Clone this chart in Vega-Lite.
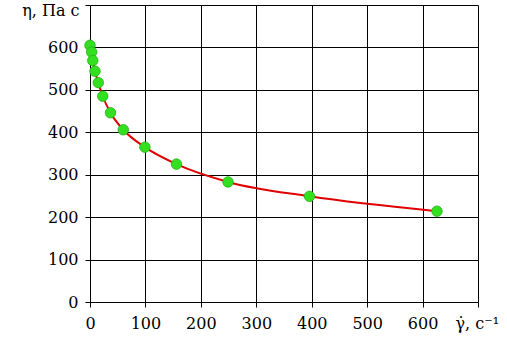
{
  "$schema": "https://vega.github.io/schema/vega-lite/v6.json",
  "autosize": "none",
  "padding": {"left": 90, "top": 5, "right": 29, "bottom": 47},
  "width": 388,
  "height": 297,
  "background": "white",
  "config": {
    "font": "DejaVu Serif",
    "view": {"stroke": null},
    "axis": {
      "labelFont": "DejaVu Serif",
      "titleFont": "DejaVu Serif",
      "labelFontSize": 16,
      "titleFontSize": 16,
      "titleFontWeight": "normal",
      "labelColor": "#000",
      "titleColor": "#000",
      "domainColor": "#000",
      "tickColor": "#000",
      "gridColor": "#000",
      "gridOpacity": 1,
      "tickSize": 5,
      "domainWidth": 1,
      "gridWidth": 1
    }
  },
  "data": {
    "values": [
      {"x": 0, "y": 605},
      {"x": 3, "y": 589},
      {"x": 5, "y": 569},
      {"x": 9, "y": 544},
      {"x": 15, "y": 517},
      {"x": 23, "y": 485},
      {"x": 37, "y": 446},
      {"x": 60, "y": 406},
      {"x": 99, "y": 365},
      {"x": 156, "y": 325},
      {"x": 249, "y": 283},
      {"x": 396, "y": 249},
      {"x": 626, "y": 214}
    ]
  },
  "encoding": {
    "x": {
      "field": "x",
      "type": "quantitative",
      "scale": {"domain": [0, 700], "nice": false, "zero": true},
      "axis": {
        "values": [0, 100, 200, 300, 400, 500, 600, 700],
        "labelExpr": "datum.value == 700 ? '' : datum.label",
        "labelPadding": 8,
        "labelFlush": false,
        "title": "γ̇, с⁻¹",
        "titleAnchor": "start",
        "titleAlign": "left",
        "titleX": 365,
        "titleY": 13,
        "titleBaseline": "top"
      }
    },
    "y": {
      "field": "y",
      "type": "quantitative",
      "scale": {"domain": [0, 700], "nice": false, "zero": true},
      "axis": {
        "values": [0, 100, 200, 300, 400, 500, 600, 700],
        "labelExpr": "datum.value == 700 ? '' : datum.label",
        "labelPadding": 7,
        "labelFlush": false,
        "title": "η, Па с",
        "titleAngle": 0,
        "titleAlign": "right",
        "titleAnchor": "end",
        "titleX": -11,
        "titleY": 10,
        "titleBaseline": "alphabetic"
      }
    }
  },
  "layer": [
    {
      "mark": {"type": "line", "color": "#e00000", "strokeWidth": 2, "interpolate": "monotone"}
    },
    {
      "mark": {"type": "point", "filled": true, "fill": "#33e020", "stroke": "#22b015", "strokeWidth": 0.8, "size": 110, "opacity": 1}
    }
  ]
}
